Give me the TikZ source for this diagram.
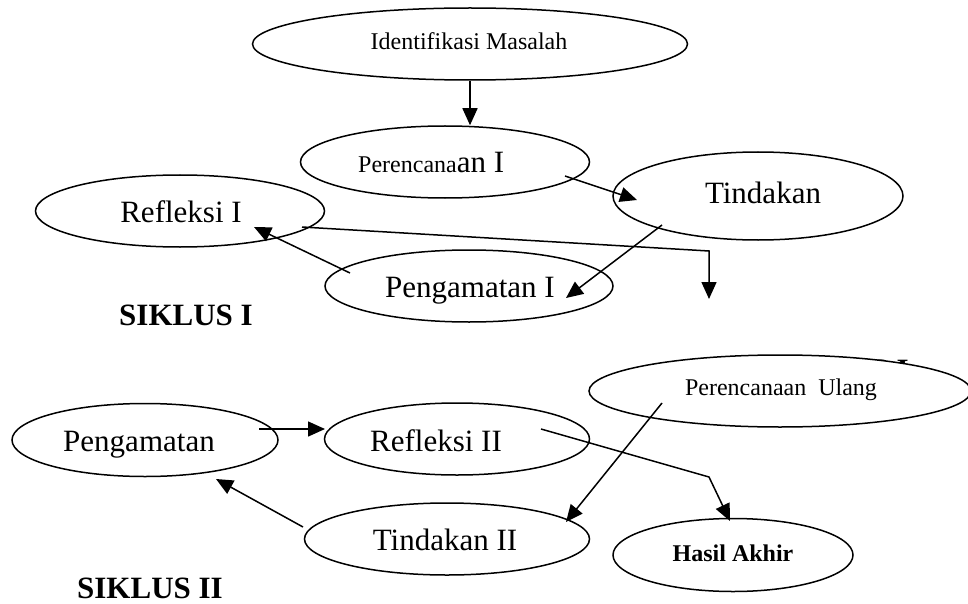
\documentclass[tikz,border=0pt]{standalone}
\usepackage{fontspec}
\setmainfont{Liberation Serif}
\usetikzlibrary{shapes.geometric,arrows.meta,calc}
\tikzset{
  ell/.style={ellipse,draw=black,line width=1.5pt,fill=white,inner sep=0pt},
  txt/.style={anchor=base,inner sep=0pt},
  small/.style={font=\fontsize{24}{28}\selectfont},
  big/.style={font=\fontsize{31}{36}\selectfont},
  bigb/.style={font=\fontsize{31}{36}\selectfont\bfseries},
  smallb/.style={font=\fontsize{24}{28}\selectfont\bfseries},
  conn/.style={line width=1.5pt,-{Triangle[length=17pt,width=15pt]}},
}
\begin{document}
\begin{tikzpicture}[x=1pt,y=-1pt]
\useasboundingbox[fill=white] (0,0) rectangle (968,604);
% label partly hidden behind the ellipse
\node[txt,bigb,anchor=base west] (hid) at (775,380) {SIKLUS I};
% ellipses
\node[ell,minimum width=435pt,minimum height=72pt] (id) at (470,44) {};
\node[ell,minimum width=289pt,minimum height=72pt] (per1) at (445,162) {};
\node[ell,minimum width=290pt,minimum height=88pt] (tind) at (758,196) {};
\node[ell,minimum width=289pt,minimum height=72pt] (refl1) at (180,211) {};
\node[ell,minimum width=288pt,minimum height=72pt] (peng1) at (469,286) {};
\node[ell,minimum width=266pt,minimum height=73pt] (peng2) at (145,440) {};
\node[ell,minimum width=265pt,minimum height=72pt] (refl2) at (457,439) {};
\node[ell,minimum width=285pt,minimum height=72pt] (tind2) at (447,539) {};
\node[ell,minimum width=382pt,minimum height=72pt] (pu) at (780,391) {};
\node[ell,minimum width=240pt,minimum height=73pt] (hasil) at (733,555) {};
% connectors
\draw[conn] (id.south) -- (id.south |- per1.north);
\draw[conn] ($(per1.center)+(120,14)$) -- ($(tind.center)+(-121,4)$);
\draw[conn] ($(tind.center)+(-96,29)$) -- ($(peng1.center)+(97,12)$);
\draw[conn] ($(peng1.center)+(-119,-13)$) -- ($(refl1.center)+(74,16)$);
\coordinate (bend1) at (709,251);
\coordinate (free1) at (709,299);
\draw[conn] ($(refl1.center)+(122,16)$) -- (bend1) -- (free1);
\draw[conn] ($(peng2.center)+(114,-11)$) -- ($(refl2.center)+(-132,-10)$);
\draw[conn] ($(tind2.center)+(-144,-12)$) -- ($(peng2.center)+(71,39)$);
\draw[conn] ($(pu.center)+(-118,12)$) -- ($(tind2.center)+(119,-17)$);
\coordinate (bend2) at (709,477);
\draw[conn] ($(refl2.center)+(84,-10)$) -- (bend2) -- ($(hasil.center)+(-3,-34)$);
% texts
\node[txt,small] (idt) at (469,50) {Identifikasi Masalah};
\node[txt,anchor=base west] (per1t) at (358,173) {{\fontsize{24}{28}\selectfont Perencana}{\fontsize{31}{36}\selectfont an I}};
\node[txt,big] (tindt) at (763,204) {Tindakan};
\node[txt,big] (refl1t) at (181,222) {Refleksi I};
\node[txt,big] (peng1t) at (470,297) {Pengamatan I};
\node[txt,bigb] (s1) at (186,325) {SIKLUS I};
\node[txt,big] (peng2t) at (139,451) {Pengamatan};
\node[txt,big] (refl2t) at (436,451) {Refleksi II};
\node[txt,big] (tind2t) at (445,550) {Tindakan II};
\node[txt,small] (put) at (781,395) {Perencanaan\ \ Ulang};
\node[txt,smallb] (hasilt) at (733,561) {Hasil Akhir};
\node[txt,bigb] (s2) at (150,598) {SIKLUS II};
\end{tikzpicture}
\end{document}
